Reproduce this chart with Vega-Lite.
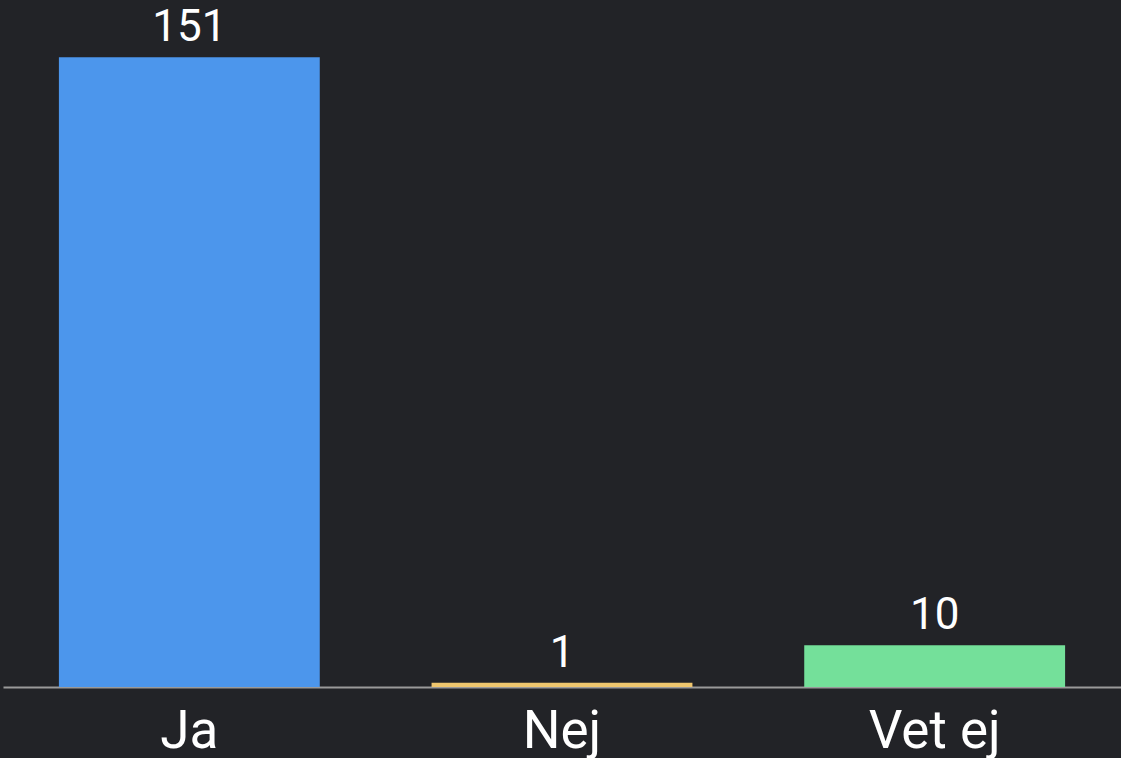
{
  "$schema": "https://vega.github.io/schema/vega-lite/v6.json",
  "width": 1118,
  "height": 687,
  "padding": {"left": 3, "top": 0, "right": 0, "bottom": 0},
  "background": "#222327",
  "config": {
    "view": {"stroke": null},
    "font": "Roboto"
  },
  "data": {
    "values": [
      {"svar": "Ja", "antal": 151, "farg": "#4C96EC"},
      {"svar": "Nej", "antal": 1, "farg": "#EFC66E"},
      {"svar": "Vet ej", "antal": 10, "farg": "#74E09A"}
    ]
  },
  "encoding": {
    "x": {
      "field": "svar",
      "type": "nominal",
      "sort": null,
      "scale": {"paddingInner": 0.3, "paddingOuter": 0.15},
      "axis": {
        "title": null,
        "labelAngle": 0,
        "labelFont": "Roboto",
        "labelFontSize": 53,
        "labelFontWeight": 400,
        "labelColor": "#ffffff",
        "labelBaseline": "alphabetic",
        "labelPadding": 60,
        "ticks": false,
        "tickSize": 0,
        "domainColor": "#9a9a9a",
        "domainWidth": 2,
        "grid": false
      }
    },
    "y": {
      "field": "antal",
      "type": "quantitative",
      "scale": {"domain": [0, 164.7], "nice": false},
      "axis": null
    }
  },
  "layer": [
    {
      "mark": {"type": "bar"},
      "encoding": {
        "color": {"field": "farg", "type": "nominal", "scale": null, "legend": null}
      }
    },
    {
      "mark": {
        "type": "text",
        "baseline": "alphabetic",
        "dy": -16,
        "fontSize": 44,
        "fontWeight": 400,
        "font": "Roboto",
        "color": "#ffffff"
      },
      "encoding": {
        "text": {"field": "antal", "type": "quantitative"}
      }
    }
  ]
}
